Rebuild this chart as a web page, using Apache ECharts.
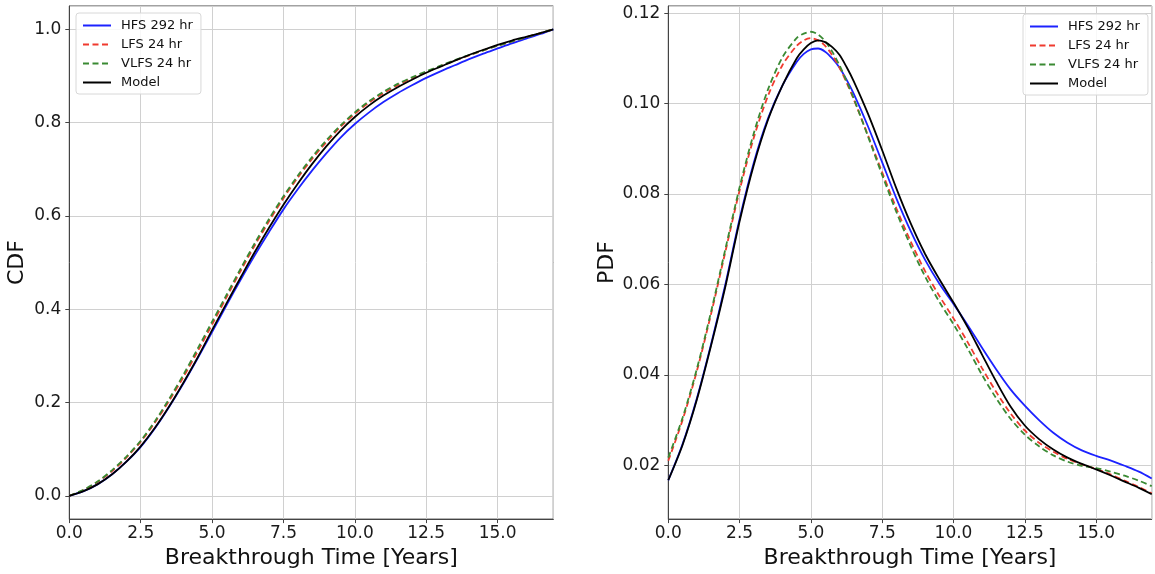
<!DOCTYPE html>
<html>
<head>
<meta charset="utf-8">
<script src="https://cdn.jsdelivr.net/npm/echarts@6/dist/echarts.min.js"></script>
<style>
html,body{margin:0;padding:0;background:#fff;}
#c{width:1155px;height:574px;}
</style>
</head>
<body>
<div id="c"></div>
<script>
// ---- data ----
const seriesNames = ['HFS 292 hr', 'LFS 24 hr', 'VLFS 24 hr', 'Model'];

// CDF (left panel)
const xCdf = [0, 0.5, 1, 1.5, 2, 2.5, 3, 3.5, 4, 4.5, 5, 5.5, 6, 6.5, 7, 7.5, 8, 8.5, 9, 9.5, 10, 10.5, 11, 11.5, 12, 12.5, 13, 13.5, 14, 14.5, 15, 15.5, 16, 16.5, 16.95];
const cdfHFS   = [0, 0.010, 0.025, 0.046, 0.073, 0.105, 0.145, 0.191, 0.241, 0.295, 0.351, 0.408, 0.463, 0.516, 0.566, 0.614, 0.657, 0.697, 0.734, 0.768, 0.797, 0.822, 0.844, 0.863, 0.880, 0.896, 0.910, 0.923, 0.936, 0.948, 0.959, 0.970, 0.980, 0.990, 1.0];
const cdfLFS   = [0, 0.012, 0.030, 0.053, 0.082, 0.116, 0.157, 0.204, 0.255, 0.310, 0.367, 0.425, 0.482, 0.537, 0.589, 0.638, 0.682, 0.722, 0.758, 0.791, 0.819, 0.843, 0.863, 0.880, 0.895, 0.908, 0.921, 0.933, 0.944, 0.955, 0.965, 0.974, 0.983, 0.992, 1.0];
const cdfVLFS  = [0, 0.013, 0.031, 0.055, 0.084, 0.118, 0.160, 0.208, 0.260, 0.316, 0.373, 0.430, 0.487, 0.542, 0.594, 0.642, 0.686, 0.726, 0.762, 0.794, 0.822, 0.846, 0.866, 0.883, 0.897, 0.910, 0.922, 0.934, 0.945, 0.955, 0.965, 0.974, 0.983, 0.992, 1.0];
const cdfModel = [0, 0.010, 0.025, 0.046, 0.073, 0.106, 0.146, 0.192, 0.243, 0.297, 0.355, 0.412, 0.468, 0.523, 0.575, 0.624, 0.669, 0.711, 0.749, 0.783, 0.812, 0.837, 0.858, 0.876, 0.892, 0.907, 0.920, 0.933, 0.945, 0.956, 0.9666, 0.976, 0.984, 0.992, 1.0];

// PDF (right panel)
const xPdf = [0, 0.5, 1, 1.5, 2, 2.5, 3, 3.5, 4, 4.5, 4.75, 5, 5.25, 5.5, 5.75, 6, 6.25, 6.5, 7, 7.5, 8, 8.5, 9, 9.5, 10, 10.5, 11, 11.5, 12, 12.5, 13, 13.5, 14, 14.5, 15, 15.5, 16, 16.5, 16.95];
const pdfHFS   = [0.0167, 0.0247, 0.0348, 0.0468, 0.0600, 0.0745, 0.0870, 0.0968, 0.1040, 0.1092, 0.1110, 0.1120, 0.1122, 0.1115, 0.1100, 0.1080, 0.1053, 0.1022, 0.0950, 0.0870, 0.0790, 0.0718, 0.0655, 0.0602, 0.0557, 0.0510, 0.0460, 0.0412, 0.0368, 0.0332, 0.0300, 0.0272, 0.0250, 0.0233, 0.0221, 0.0211, 0.0199, 0.0186, 0.0171];
const pdfLFS   = [0.0210, 0.0300, 0.0408, 0.0535, 0.0672, 0.0808, 0.0925, 0.1018, 0.1085, 0.1128, 0.1140, 0.1145, 0.1140, 0.1128, 0.1107, 0.1080, 0.1047, 0.1010, 0.0930, 0.0848, 0.0768, 0.0695, 0.0630, 0.0575, 0.0525, 0.0472, 0.0415, 0.0362, 0.0315, 0.0277, 0.0250, 0.0230, 0.0214, 0.0202, 0.0192, 0.0180, 0.0166, 0.0152, 0.0138];
const pdfVLFS  = [0.0217, 0.0305, 0.0413, 0.0540, 0.0678, 0.0815, 0.0935, 0.1032, 0.1102, 0.1145, 0.1155, 0.1159, 0.1153, 0.1138, 0.1115, 0.1085, 0.1050, 0.1012, 0.0928, 0.0842, 0.0760, 0.0685, 0.0618, 0.0562, 0.0512, 0.0458, 0.0400, 0.0348, 0.0303, 0.0268, 0.0242, 0.0222, 0.0208, 0.0199, 0.0194, 0.0186, 0.0177, 0.0166, 0.0154];
const pdfModel = [0.0167, 0.0245, 0.0345, 0.0465, 0.0595, 0.0740, 0.0865, 0.0965, 0.1040, 0.1100, 0.1120, 0.1134, 0.1140, 0.1136, 0.1125, 0.1108, 0.1081, 0.1050, 0.0978, 0.0897, 0.0812, 0.0735, 0.0668, 0.0612, 0.0560, 0.0505, 0.0445, 0.0385, 0.0330, 0.0288, 0.0258, 0.0235, 0.0217, 0.0203, 0.0191, 0.0178, 0.0164, 0.0150, 0.0136];

const xTitle = 'Breakthrough Time [Years]';
const yTitles = ['CDF', 'PDF'];

// ---- styling ----
const colors = ['#1c22ff', '#f03a2e', '#3a8a33', '#000000'];
const dashes = ['solid', [6, 3.5], [6, 3.5], 'solid'];
const FONT = 'DejaVu Sans';
const axisColor = '#444';
const gridColor = '#d0d0d0';

function pairs(xs, ys) { return xs.map((x, i) => [x, ys[i]]); }

const panels = [
  { xs: xCdf, sets: [cdfHFS, cdfLFS, cdfVLFS, cdfModel] },
  { xs: xPdf, sets: [pdfHFS, pdfLFS, pdfVLFS, pdfModel] }
];

function mkX(idx) {
  return {
    type: 'value', gridIndex: idx, min: 0, max: 16.95, interval: 2.5,
    name: xTitle, nameLocation: 'middle', nameGap: 27,
    nameTextStyle: { fontFamily: FONT, fontSize: 22, color: '#111' },
    axisLine: { show: true, onZero: false, lineStyle: { color: axisColor, width: 1 } },
    axisTick: { show: true, inside: false, length: 4, lineStyle: { color: axisColor } },
    axisLabel: { fontFamily: FONT, fontSize: 17, color: '#1a1a1a', margin: 6, showMaxLabel: false,
      formatter: v => v.toFixed(1) },
    splitLine: { show: true, lineStyle: { color: gridColor, width: 1 } }
  };
}
function mkY(idx, min, max, dec, gap) {
  return {
    type: 'value', gridIndex: idx, min: min, max: max,
    name: yTitles[idx], nameLocation: 'middle', nameGap: gap, nameRotate: 90,
    nameTextStyle: { fontFamily: FONT, fontSize: 22, color: '#111' },
    axisLine: { show: true, onZero: false, lineStyle: { color: axisColor, width: 1 } },
    axisTick: { show: true, inside: false, length: 4, lineStyle: { color: axisColor } },
    axisLabel: { fontFamily: FONT, fontSize: 17, color: '#1a1a1a', margin: 8,
      showMinLabel: false, showMaxLabel: false, formatter: v => v.toFixed(dec) },
    splitLine: { show: true, lineStyle: { color: gridColor, width: 1 } }
  };
}

const series = [];
panels.forEach((p, g) => {
  p.sets.forEach((ys, i) => {
    series.push({
      name: seriesNames[i], type: 'line', xAxisIndex: g, yAxisIndex: g,
      data: pairs(p.xs, ys), symbol: 'none', showSymbol: false, smooth: 0.3,
      lineStyle: { color: colors[i], width: 1.8, type: dashes[i] },
      itemStyle: { color: colors[i] },
      z: 2 + i, animation: false
    });
  });
});

function mkLegend(left, top) {
  return {
    data: seriesNames, orient: 'vertical', left: left, top: top,
    itemWidth: 28, itemHeight: 14, itemGap: 6,
    padding: [6, 8, 5, 6],
    backgroundColor: 'rgba(255,255,255,0.85)', borderColor: '#d8d8d8', borderWidth: 1, borderRadius: 3,
    itemStyle: { color: 'rgba(0,0,0,0)', borderWidth: 0, opacity: 0 },
    textStyle: { fontFamily: FONT, fontSize: 13, color: '#111', padding: [0, 0, 0, 5] },
    selectedMode: false
  };
}

const chart = echarts.init(document.getElementById('c'), null, { renderer: 'canvas' });
chart.setOption({
  backgroundColor: '#fff',
  animation: false,
  grid: [
    { left: 69.3, top: 6, width: 484, height: 515.7, show: true, borderColor: axisColor, borderWidth: 1, containLabel: false },
    { left: 668.3, top: 6, width: 483.4, height: 516.3, show: true, borderColor: axisColor, borderWidth: 1, containLabel: false }
  ],
  xAxis: [mkX(0), mkX(1)],
  yAxis: [mkY(0, -0.05, 1.05, 1, 41), mkY(1, 0.0081, 0.1216, 2, 50)],
  legend: [mkLegend(76, 13), mkLegend(1023, 14)],
  series: series
});
</script>
</body>
</html>
